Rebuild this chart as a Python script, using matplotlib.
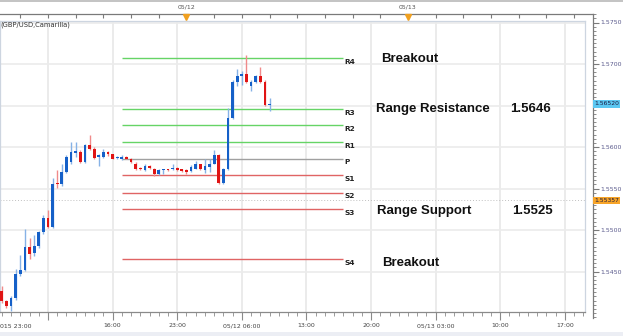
import numpy as np
import matplotlib
matplotlib.use("Agg")
import matplotlib.pyplot as plt
from matplotlib.patches import Rectangle

# ---------------- data ----------------
# 30-minute GBP/USD candles, time in hours since 05/11 00:00
opens = [1.5426,1.5414,1.5408,1.5418,1.5447,1.5452,1.5479,1.5472,1.5481,1.5497,
         1.5515,1.5504,1.5557,1.5555,1.5570,1.5582,1.5593,1.5594,1.5582,1.5602,
         1.5598,1.5588,1.5588,1.5594,1.5591,1.5587,1.5586,1.5588,1.5586,1.5580,
         1.5575,1.5572,1.5577,1.5574,1.5567,1.5572,1.5573,1.5573,1.5575,1.5573,
         1.5572,1.5571,1.5574,1.5580,1.5572,1.5576,1.5580,1.5590,1.5557,1.5574,
         1.5635,1.5678,1.5685,1.5688,1.5673,1.5678,1.5685,1.5678,1.5651]
closes = [1.5414,1.5408,1.5418,1.5447,1.5452,1.5479,1.5471,1.5481,1.5497,1.5515,
          1.5504,1.5556,1.5555,1.5570,1.5588,1.5594,1.5595,1.5582,1.5602,1.5598,
          1.5587,1.5590,1.5594,1.5591,1.5586,1.5588,1.5588,1.5586,1.5582,1.5574,
          1.5573,1.5577,1.5575,1.5567,1.5572,1.5573,1.5572,1.5575,1.5572,1.5571,
          1.5570,1.5576,1.5580,1.5573,1.5577,1.5580,1.5590,1.5557,1.5573,1.5635,
          1.5678,1.5685,1.5688,1.5678,1.5678,1.5685,1.5678,1.5651,1.5652]
highs = [1.5432,1.5416,1.5420,1.5453,1.5470,1.5501,1.5490,1.5494,1.5499,1.5518,
         1.5524,1.5563,1.5572,1.5580,1.5590,1.5606,1.5606,1.5596,1.5604,1.5614,
         1.5600,1.5592,1.5598,1.5595,1.5592,1.5589,1.5590,1.5589,1.5587,1.5582,
         1.5576,1.5579,1.5578,1.5575,1.5573,1.5574,1.5574,1.5580,1.5576,1.5574,
         1.5573,1.5578,1.5583,1.5580,1.5586,1.5586,1.5596,1.5592,1.5575,1.5647,
         1.5681,1.5694,1.5692,1.5711,1.5681,1.5687,1.5696,1.5681,1.5659]
lows = [1.5412,1.5406,1.5402,1.5416,1.5445,1.5451,1.5465,1.5469,1.5478,1.5495,
        1.5502,1.5502,1.5551,1.5553,1.5569,1.5580,1.5588,1.5581,1.5581,1.5596,
        1.5586,1.5577,1.5587,1.5589,1.5585,1.5586,1.5584,1.5585,1.5581,1.5572,
        1.5572,1.5571,1.5573,1.5565,1.5566,1.5567,1.5571,1.5572,1.5571,1.5570,
        1.5568,1.5570,1.5573,1.5572,1.5569,1.5570,1.5579,1.5556,1.5556,1.5572,
        1.5634,1.5673,1.5675,1.5677,1.5667,1.5677,1.5677,1.5650,1.5643]
start_hour = 4.0
bar_hours = 0.5

level_names = ["R4", "R3", "R2", "R1", "P", "S1", "S2", "S3", "S4"]
level_values = [1.5707, 1.5646, 1.5626, 1.5606, 1.5586, 1.5566, 1.5545, 1.5525, 1.5465]
level_kinds = ["R", "R", "R", "R", "P", "S", "S", "S", "S"]
level_start, level_end = 17.0, 41.0

xtick_hours = [16, 23, 30, 37, 44, 51, 58, 65]
xtick_labels = ["16:00", "23:00", "05/12 06:00", "13:00", "20:00", "05/13 03:00", "10:00", "17:00"]
date_hours = [24, 48]
date_labels = ["05/12", "05/13"]
ytick_values = [1.5450, 1.5500, 1.5550, 1.5600, 1.5650, 1.5700, 1.5750]
last_price = 1.56520
marker_price = 1.55357

# ---------------- figure ----------------
W, H = 623, 336
fig = plt.figure(figsize=(W / 100, H / 100), dpi=100)
fig.patch.set_facecolor("white")
SMALL = 4.5

PX_PER_HOUR = 9.23
def price_at(ypx):
    return 1.5700 - (ypx - 64) / 8300.0

# outer frame axes (top time axis + right price axis)
ox0, ox1, oy0, oy1 = 0, 593, 13.5, 318
oax = fig.add_axes([ox0 / W, 1 - oy1 / H, (ox1 - ox0) / W, (oy1 - oy0) / H])
oax.set_xlim(3.8, 3.8 + (ox1 - ox0) / PX_PER_HOUR)
oax.set_ylim(price_at(oy1), price_at(oy0))
oax.patch.set_visible(False)
for s in ["left", "bottom"]:
    oax.spines[s].set_visible(False)
for s in ["top", "right"]:
    oax.spines[s].set_color("#7a7a7a")
    oax.spines[s].set_linewidth(0.9)
oax.xaxis.tick_top()
oax.set_xticks(np.arange(6, 68, 3))
oax.tick_params(axis="x", which="major", direction="in", length=3, color="#7a7a7a",
                labeltop=False, labelbottom=False, top=True, bottom=False)
oax.yaxis.tick_right()
oax.set_yticks(ytick_values)
oax.set_yticklabels(["" if abs(v - last_price) < 0.001 else f"{v:.4f}" for v in ytick_values])
oax.set_yticks(np.arange(1.5395, 1.5765, 0.0005), minor=True)
oax.tick_params(axis="y", which="major", direction="out", length=4, color="#7a7a7a",
                labelsize=SMALL, labelcolor="#5a5a8c", pad=1.0, right=True, left=False)
oax.tick_params(axis="y", which="minor", direction="out", length=2, color="#7a7a7a",
                right=True, left=False)
for h, lab in zip(date_hours, date_labels):
    oax.text(h, price_at(7), lab, ha="center", va="center", fontsize=SMALL, color="#555555")
    oax.plot([h], [price_at(16.5)], marker="v", color="#f0a020", markersize=4.5,
             clip_on=False, zorder=5)

# price boxes on right axis
span = price_at(oy0) - price_at(oy1)
oax.text(1.002, (last_price - price_at(oy1)) / span,
         f"{last_price:.5f}", transform=oax.transAxes, ha="left", va="center",
         fontsize=4.3, color="#1a1a40",
         bbox=dict(boxstyle="square,pad=0.2", fc="#5cc8f2", ec="none"), zorder=6)
oax.text(1.002, (marker_price - price_at(oy1)) / span,
         f"{marker_price:.5f}", transform=oax.transAxes, ha="left", va="center",
         fontsize=4.3, color="#1a1a40",
         bbox=dict(boxstyle="square,pad=0.2", fc="#f7a428", ec="none"), zorder=6)

# main plot area
px0, px1, py0, py1 = 0, 585, 20.7, 311.5
ax = fig.add_axes([px0 / W, 1 - py1 / H, (px1 - px0) / W, (py1 - py0) / H])
ax.set_xlim(3.8, 3.8 + (px1 - px0) / PX_PER_HOUR)
ax.set_ylim(price_at(py1), price_at(py0))
ax.set_facecolor("white")
for s in ["left", "top", "right"]:
    ax.spines[s].set_color("#cdd5e0")
    ax.spines[s].set_linewidth(0.9)
ax.spines["bottom"].set_color("#8a8a8a")
ax.spines["bottom"].set_linewidth(0.9)

ax.set_xticks([9] + xtick_hours)
ax.set_xticklabels([""] + xtick_labels)
ax.set_xticks(np.arange(4, 68, 1), minor=True)
ax.tick_params(axis="x", which="major", direction="out", length=6, color="#8a8a8a",
               labelsize=SMALL, labelcolor="#444444", pad=2.5)
ax.tick_params(axis="x", which="minor", direction="out", length=3, color="#8a8a8a")
ax.set_yticks([])

for h in [9] + xtick_hours:
    ax.axvline(h, color="#e8e8e8", lw=1.2, zorder=0)
for v in ytick_values:
    ax.axhline(v, color="#ebebeb", lw=1.2, zorder=0)
ax.axhline(marker_price, color="#c0c0c0", lw=0.7, ls=(0, (1, 2)), zorder=1)

# camarilla levels
kind_color = {"R": "#66d466", "P": "#a0a0a0", "S": "#e06464"}
for name, val, kind in zip(level_names, level_values, level_kinds):
    ax.hlines(val, level_start, level_end, color=kind_color[kind], lw=1.0, zorder=2)
    ax.text(level_end + 0.1, val - 0.00045, name, ha="left", va="center",
            fontsize=5.3, fontweight="bold", color="#222222", zorder=4)

# candles
o = np.array(opens); c = np.array(closes); hi = np.array(highs); lo = np.array(lows)
t = start_hour + bar_hours * np.arange(len(o))
up = c >= o
body_col = np.where(up, "#1560c8", "#e01414")
wick_col = np.where(up, "#86b2e6", "#f08a8a")
ax.vlines(t, lo, hi, colors=wick_col, lw=1.0, zorder=3)
heights = np.maximum(np.abs(c - o), 0.00008)
ax.bar(t, heights, bottom=np.minimum(o, c), width=0.3, color=body_col, zorder=3,
       linewidth=0)

# annotations
bigfont = dict(fontsize=9.5, fontweight="bold", color="#111111",
               family=["Liberation Sans", "DejaVu Sans"], va="center", ha="left")
ax.text(45.08, price_at(58.5), "Breakout", **bigfont)
ax.text(44.5, price_at(109.3), "Range Resistance", **bigfont)
ax.text(59.05, price_at(109.3), "1.5646", **bigfont)
ax.text(44.6, price_at(211), "Range Support", **bigfont)
ax.text(59.24, price_at(211), "1.5525", **bigfont)
ax.text(45.15, price_at(263.3), "Breakout", **bigfont)

ax.text(0.001, price_at(25), "(GBP/USD,Camarilla)", transform=ax.get_yaxis_transform(),
        ha="left", va="center", fontsize=4.9, color="#333333")
fig.text(0.0, 1 - 326 / H, "015 23:00", ha="left", va="center", fontsize=SMALL, color="#444444")

# header / footer bands
fig.add_artist(Rectangle((0, 1 - 2 / H), 1, 2 / H, transform=fig.transFigure,
                         fc="#c4c4c4", ec="none"))
fig.add_artist(Rectangle((0, 0), 1, 4 / H, transform=fig.transFigure,
                         fc="#eceef4", ec="none"))

fig.savefig("out.png", dpi=100)
